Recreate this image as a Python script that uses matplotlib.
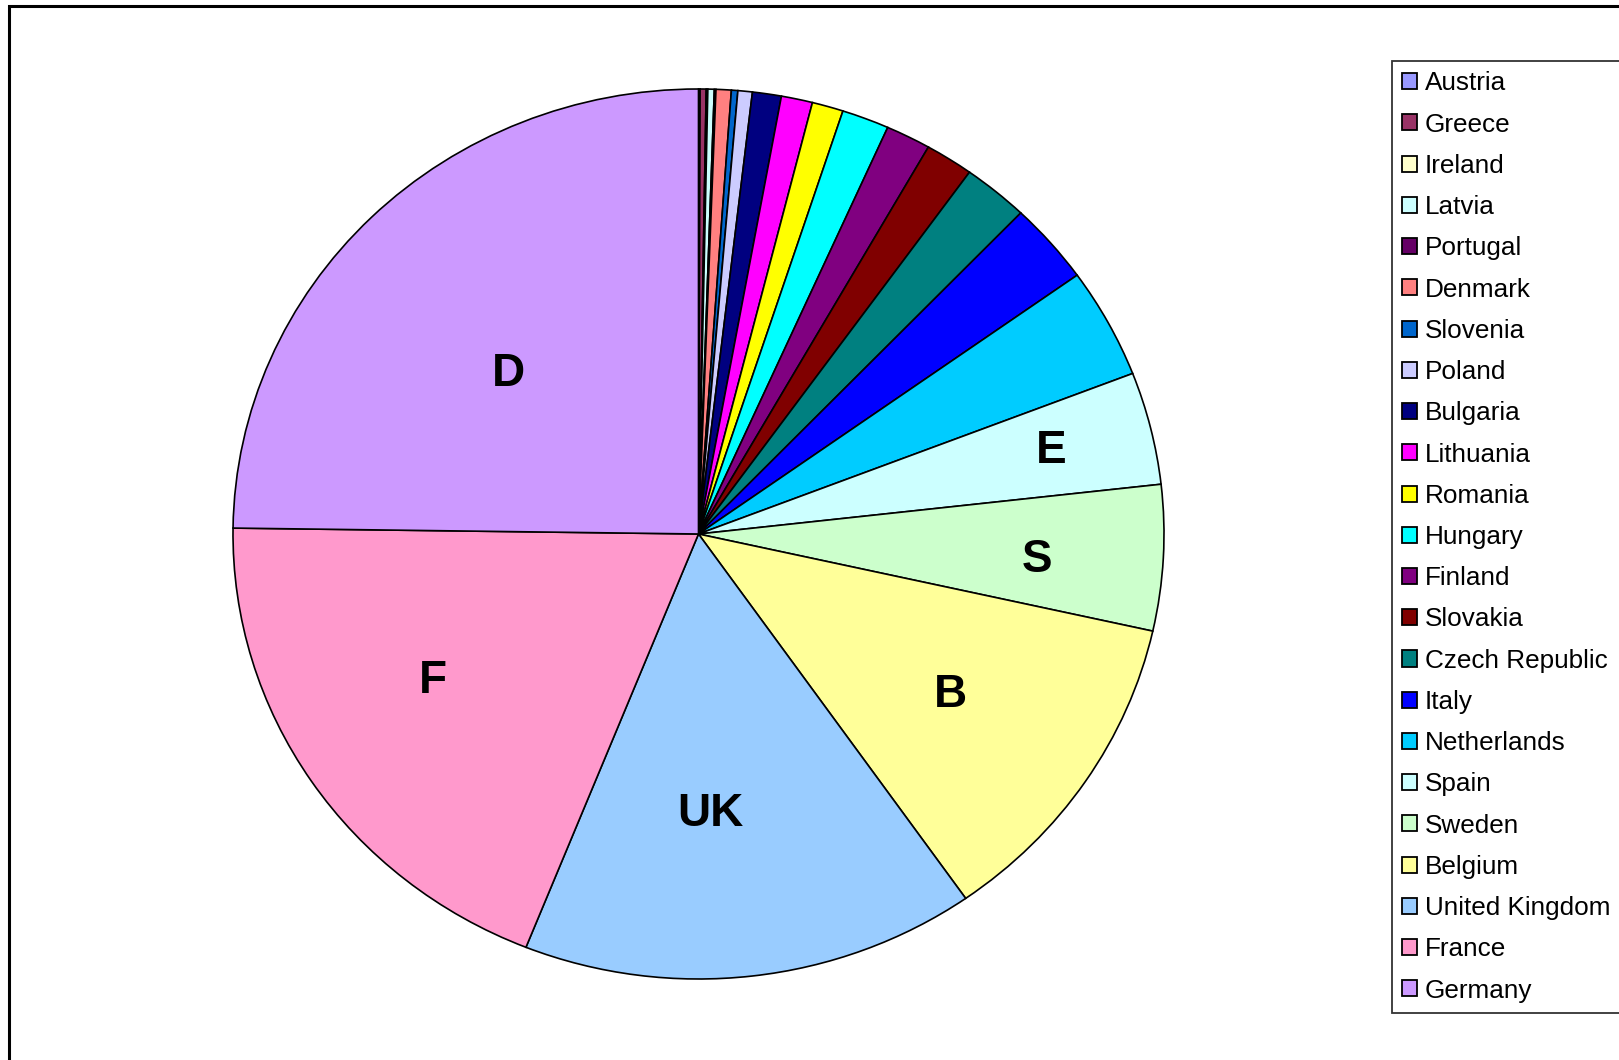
import matplotlib.pyplot as plt
import matplotlib.patches as mpatches
import numpy as np

plt.rcParams['font.family'] = ['Liberation Sans', 'DejaVu Sans']

countries = ["Austria", "Greece", "Ireland", "Latvia", "Portugal", "Denmark",
             "Slovenia", "Poland", "Bulgaria", "Lithuania", "Romania", "Hungary",
             "Finland", "Slovakia", "Czech Republic", "Italy", "Netherlands",
             "Spain", "Sweden", "Belgium", "United Kingdom", "France", "Germany"]

# share of the pie, in degrees
shares = [0.2, 0.75, 0.2, 0.8, 0.2, 1.9, 0.8, 1.8, 3.6, 3.9, 3.9, 5.9,
          5.6, 6.0, 8.2, 10.6, 14.4, 14.7, 19.0, 42.3, 56.7, 68.9, 89.1]

colors = ["#9999FF", "#993366", "#FFFFCC", "#CCFFFF", "#660066", "#FF8080",
          "#0066CC", "#CCCCFF", "#000080", "#FF00FF", "#FFFF00", "#00FFFF",
          "#800080", "#800000", "#008080", "#0000FF", "#00CCFF",
          "#CCFFFF", "#CCFFCC", "#FFFF99", "#99CCFF", "#FF99CC", "#CC99FF"]

short_labels = {"Spain": "E", "Sweden": "S", "Belgium": "B",
                "United Kingdom": "UK", "France": "F", "Germany": "D"}

# label placement: (fraction of radius, angle shift from wedge middle in deg)
label_pos = {"E": (0.78, 0.0), "S": (0.73, -1.5), "B": (0.65, 0.0),
             "UK": (0.63, -4.4), "F": (0.66, -3.6), "D": (0.545, 4.0)}

W, H = 1619, 1060
fig = plt.figure(figsize=(W / 100, H / 100), dpi=100)

# outer chart frame (right and bottom edges fall outside the picture)
fig.patches.append(mpatches.Rectangle((9 / W, -0.1), 1.2, 1.1 - 6 / H,
                                      transform=fig.transFigure, fill=False,
                                      edgecolor="black", linewidth=2.2))

cx, cy, rx, ry = 698.5, 534, 465.5, 445
ax = fig.add_axes([(cx - rx) / W, (H - cy - ry) / H, 2 * rx / W, 2 * ry / H])

wedges, _ = ax.pie(shares, colors=colors, startangle=90, counterclock=False,
                   wedgeprops=dict(edgecolor="black", linewidth=1.2))
ax.set_aspect("auto")
ax.set_xlim(-1, 1)
ax.set_ylim(-1, 1)
ax.axis("off")

for w, name in zip(wedges, countries):
    if name in short_labels:
        lab = short_labels[name]
        r, shift = label_pos[lab]
        mid = np.deg2rad((w.theta1 + w.theta2) / 2 + shift)
        ax.text(r * np.cos(mid), r * np.sin(mid), lab, ha="center", va="center",
                fontsize=33, fontweight="bold")

leg = fig.legend(wedges, countries, loc="upper left",
                 bbox_to_anchor=(1392 / W, 1 - 61 / H),
                 fontsize=18.8, frameon=True, fancybox=False,
                 handlelength=0.57, handleheight=0.57, handletextpad=0.29,
                 labelspacing=0.66, borderpad=0.4, borderaxespad=0)
leg.get_frame().set_edgecolor("black")
leg.get_frame().set_linewidth(1.3)
for h in leg.legend_handles:
    h.set_linewidth(1.3)

plt.savefig("out.png", dpi=100)
